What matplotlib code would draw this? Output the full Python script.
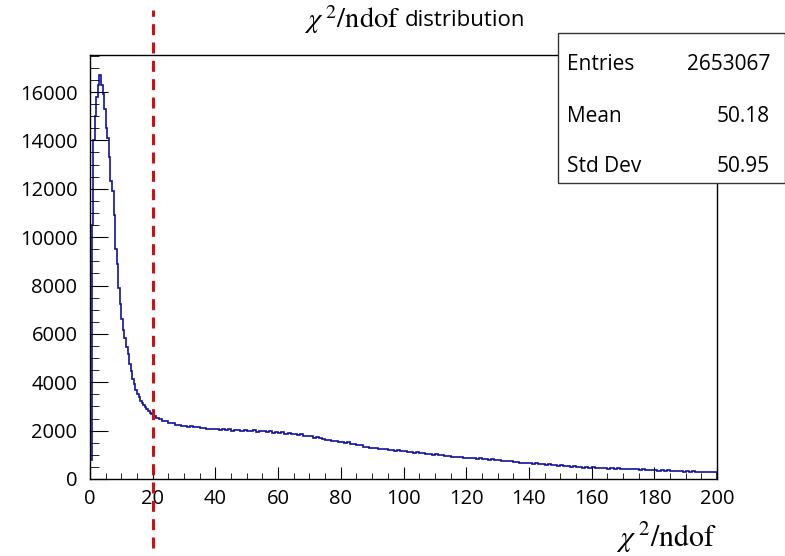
import numpy as np
import matplotlib.pyplot as plt
from matplotlib.patches import Rectangle
from matplotlib.ticker import MultipleLocator

plt.rcParams['font.family'] = ['Open Sans', 'DejaVu Sans']
plt.rcParams['mathtext.fontset'] = 'stix'

# chi2/ndof histogram: 0.5 wide bins below 20, 1 wide above
fine_counts = [800, 10500, 14000, 15000, 15800, 16300, 16700, 16300, 15900, 15300,
               14500, 14100, 13300, 12300, 11900, 10900, 9500, 8900, 7900, 7250,
               6600, 6150, 5850, 5450, 5150, 4750, 4450, 4150, 3920, 3700,
               3500, 3370, 3240, 3150, 3050, 2970, 2880, 2800, 2740, 2680]
coarse_counts = [2620, 2520, 2470, 2410, 2380, 2310, 2320, 2240, 2230, 2190,
                 2200, 2140, 2200, 2130, 2140, 2110, 2100, 2080, 2070, 2050,
                 2080, 2040, 2060, 2010, 2050, 1990, 2030, 2010, 1970, 2030,
                 1990, 1980, 2010, 1950, 1990, 1970, 1930, 1980, 1920, 1930,
                 1890, 1930, 1860, 1900, 1840, 1870, 1810, 1850, 1780, 1790,
                 1770, 1710, 1720, 1680, 1660, 1630, 1630, 1570, 1590, 1540,
                 1550, 1490, 1510, 1450, 1450, 1390, 1390, 1330, 1330, 1300,
                 1300, 1270, 1260, 1230, 1240, 1200, 1210, 1170, 1180, 1150,
                 1160, 1120, 1130, 1080, 1100, 1060, 1070, 1040, 1040, 1010,
                 1020, 980, 990, 960, 960, 930, 930, 900, 910, 870,
                 880, 850, 860, 830, 850, 810, 830, 790, 810, 780,
                 790, 750, 760, 730, 730, 700, 710, 670, 680, 650,
                 670, 630, 650, 610, 630, 590, 610, 570, 590, 555,
                 570, 535, 550, 515, 530, 495, 510, 475, 490, 465,
                 480, 450, 470, 440, 460, 430, 450, 420, 440, 410,
                 430, 400, 420, 395, 410, 380, 400, 370, 390, 360,
                 380, 350, 370, 340, 360, 330, 350, 320, 340, 310,
                 330, 300, 320, 295, 310, 285, 300, 275, 290, 270]
edges = np.concatenate([np.arange(0, 20, 0.5), np.arange(20, 201, 1.0)])
counts = np.array(fine_counts + coarse_counts)

x_ticks = [0, 20, 40, 60, 80, 100, 120, 140, 160, 180, 200]
y_ticks = [0, 2000, 4000, 6000, 8000, 10000, 12000, 14000, 16000]
cut = 20

stats_names = ['Entries', 'Mean', 'Std Dev']
stats_values = ['2653067', '50.18', '50.95']

W, H = 785, 556
fig = plt.figure(figsize=(W / 100, H / 100), dpi=100)
ax = fig.add_axes([90 / W, 1 - 479 / H, (717 - 90) / W, (479 - 55) / H])

ax.stairs(counts, edges, color='#1010a0', linewidth=1.2)

ax.axvline(cut, ymin=-0.163, ymax=1.106, clip_on=False, color='#cc1111',
           linewidth=2.2, linestyle=(0, (3.6, 2.4)), zorder=6)

ax.set_xlim(0, 200)
ax.set_ylim(0, 17530)
ax.set_xticks(x_ticks)
ax.set_yticks(y_ticks)
ax.xaxis.set_minor_locator(MultipleLocator(5))
ax.yaxis.set_minor_locator(MultipleLocator(500))
ax.tick_params(which='both', direction='in', labelsize=14.5, top=False, right=False)
ax.tick_params(axis='x', which='major', length=9, pad=7)
ax.tick_params(axis='x', which='minor', length=4.5)
ax.tick_params(axis='y', which='major', length=13, pad=9)
ax.tick_params(axis='y', which='minor', length=6.5)
for s in ax.spines.values():
    s.set_linewidth(1.0)

# title: math part and plain word set separately
fig.text(401 / W, 1 - 20 / H, r'$\chi^{\;2}/\mathrm{ndof}$',
         ha='right', va='center', fontsize=20.5)
fig.text(405 / W, 1 - 21 / H, 'distribution',
         ha='left', va='center', fontsize=16)
fig.text(717 / W, 1 - 538 / H, r'$\chi^{\;2}/\mathrm{ndof}$',
         ha='right', va='center', fontsize=21.5)

# stats box in the top right corner
box = Rectangle((558 / W, 1 - 183 / H), (W - 558) / W, 150 / H,
                transform=fig.transFigure, facecolor='white',
                edgecolor='#333333', linewidth=1.0, zorder=10)
fig.add_artist(box)
for i, (name, val) in enumerate(zip(stats_names, stats_values)):
    y = 1 - (65 + 51 * i) / H
    fig.text(567 / W, y, name, ha='left', va='center', fontsize=15, zorder=11)
    fig.text(770 / W, y, val, ha='right', va='center', fontsize=15, zorder=11)

fig.savefig('out.png', dpi=100)
